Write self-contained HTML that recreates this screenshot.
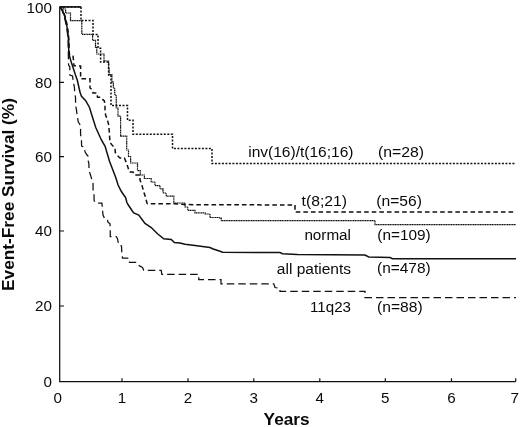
<!DOCTYPE html>
<html><head><meta charset="utf-8"><title>Event-Free Survival</title>
<style>
html,body{margin:0;padding:0;background:#fff;}
body{width:520px;height:427px;overflow:hidden;}
svg{display:block;will-change:transform;filter:grayscale(1);}
text{font-family:"Liberation Sans",sans-serif;fill:#0a0a0a;}
.b{font-weight:bold;}
.l{fill:none;stroke:#111;stroke-linejoin:miter;}
</style></head><body>
<svg width="520" height="427" viewBox="0 0 520 427">
<rect width="520" height="427" fill="#fff"/>

<path class="l" stroke-width="1.25" d="M59.7,6.6 L59.7,381.7 L515.7,381.7"/>
<path class="l" stroke-width="1.2" d="M122,381.6 V378.2 M188,381.6 V378.2 M253.8,381.6 V378.2 M319.8,381.6 V378.2 M385.3,381.6 V378.2 M451.5,381.6 V378.2 M515.7,381.6 V378.2 M59.7,82.3 H64 M59.7,156.6 H64 M59.7,231 H64 M59.7,306 H64 "/>
<text x="51.9" y="12.65" font-size="15.2" text-anchor="end">100</text>
<text x="51.9" y="87.65" font-size="15.2" text-anchor="end">80</text>
<text x="51.9" y="161.95" font-size="15.2" text-anchor="end">60</text>
<text x="51.9" y="236.35" font-size="15.2" text-anchor="end">40</text>
<text x="51.9" y="311.35" font-size="15.2" text-anchor="end">20</text>
<text x="51.9" y="386.95" font-size="15.2" text-anchor="end">0</text>
<text x="57.7" y="403.3" font-size="15.2" text-anchor="middle">0</text>
<text x="122" y="403.3" font-size="15.2" text-anchor="middle">1</text>
<text x="188" y="403.3" font-size="15.2" text-anchor="middle">2</text>
<text x="253.8" y="403.3" font-size="15.2" text-anchor="middle">3</text>
<text x="319.8" y="403.3" font-size="15.2" text-anchor="middle">4</text>
<text x="385.3" y="403.3" font-size="15.2" text-anchor="middle">5</text>
<text x="451.5" y="403.3" font-size="15.2" text-anchor="middle">6</text>
<text x="514.7" y="403.3" font-size="15.2" text-anchor="middle">7</text>
<text class="b" x="286.6" y="425.3" font-size="16.4" text-anchor="middle" textLength="46" lengthAdjust="spacingAndGlyphs">Years</text>
<text class="b" transform="translate(14.2,194.5) rotate(-90)" font-size="15.6" text-anchor="middle" textLength="193" lengthAdjust="spacingAndGlyphs">Event-Free Survival (%)</text>
<path class="l" stroke-width="1.6" d="M59.7,6.9 H81.3"/>
<polyline class="l" stroke-width="1.5" stroke-dasharray="2 1.5" points="60,7 81,7 81,20.5 93,20.5 93,34.4 98,34.4 98,48.2 100.6,48.2 100.6,62 108.6,62 108.6,75 111,75 111,105.5 127.5,105.5 127.5,120.3 133,120.3 133,134.2 172.5,134.2 172.5,148.6 212,148.6 212,163.6 516,163.6"/>
<polyline class="l" stroke-width="1.2" stroke-dasharray="1.3 0.4" points="60,7 63.5,7 63.5,9 65.6,9 65.6,13 70.5,13 70.5,20.7 81.8,20.7 81.8,34.3 92.6,34.3 92.6,40.4 95.5,40.4 95.5,47.4 96.8,47.4 96.8,54 104,54 104,61 108.6,61 108.6,69 109.2,69 109.2,74.7 111.9,74.7 111.9,82.2 113.3,82.2 113.3,88 114.7,88 114.7,95 116.25,95 116.25,108 118,108 118,116.2 120.6,116.2 120.6,136.2 126.7,136.2 126.7,150 128.5,150 128.5,156.5 130.6,156.5 130.6,163 137.5,163 137.5,170.6 140.3,170.6 140.3,175 144.4,175 144.4,178.5 151.2,178.5 151.2,182 155,182 155,185.6 160,185.6 160,188.8 163,188.8 163,193 166.2,193 166.2,196.2 173.8,196.2 173.8,203 185,203 185,207 187.8,207 187.8,210.4 195,210.4 195,212.8 205,212.8 205,214 210,214 210,217.5 220,217.5 220,218.2 221.3,218.2 221.3,220.6 375,220.6 375,224.7 516,224.7"/>
<polyline class="l" stroke-width="1.5" stroke-dasharray="4.6 3" points="60,7 61.7,9 63.4,11.4 65.3,17 67,24.5 68.3,33 69,41 69.2,50 69.4,54.5 73,55.5 74,65.8 80.6,66 80.6,78.75 90,78.75 90,88 92.5,90 93,93 97,93 97.5,97.25 100.6,97.25 102.5,99.4 104.4,101 105,105.6 105,110 105.6,115 107.5,120 108.75,125 110,142.5 112.5,145.6 115,148 115.3,152.5 117.5,155.6 120,158 124.4,158 126.25,162.5 128,167.5 129.4,172 133,172 134.4,175 140,175 140,180 141.9,185 143.75,192 145.6,197.5 146.9,203 147.5,203.8 174,203.8 185,204.6 295,205 295,212 516,212"/>
<polyline class="l" stroke-width="1.25" stroke-dasharray="7.5 4" points="60,7 61.2,9 62.5,11.4 64.4,17 66.1,24.5 67.4,33 68.1,41 68.3,54 68.6,65 69.8,67 69.8,75 72.5,76 73.7,84 74.4,87 74.8,94 75.5,97 75.6,106 76.4,109.4 77,114.4 77.6,117.5 78.25,122 79.5,123.75 80.5,126 80.6,135 81.4,137.5 81.6,146 83.9,147 85.1,152 87,155 88,156 88.2,161 88.9,163.75 89,170.6 90.1,173.75 92,180 93,183 93.1,190.6 94,193.75 94.1,200.6 96,203 101.9,203 103,215 104.4,218 107.5,219.4 107.8,222 110,223.75 110.25,231 110.25,236.5 116.25,236.5 117.5,238.75 118.75,245 121.5,246 121.9,254.4 122.5,258 128.75,258 129.4,262.25 136.25,262.25 138,265 142.5,267.5 143.75,270.25 161.25,270.25 161.8,274.4 198.75,274.4 198.75,279.5 221,279.5 221,283.75 273.75,283.75 275,287.5 280,288.5 280,291.25 365,291.25 365,297.5 516,297.5"/>
<polyline class="l" stroke-width="1.5" stroke-linejoin="round" points="60,7 61.5,9 63,11.4 64.9,17 66.6,24.5 67.9,33 68.6,41 68.8,53.7 70.6,60 75.2,74.3 77.25,80 80.05,92.2 81.5,96.4 85.7,100.6 89.4,107.2 92.6,117.5 95.75,127.5 101.4,140 105.1,146.25 109.5,161.25 115.75,177.5 118.1,185 121.25,191.25 123.75,195 125.6,197.5 126.9,202.5 128,204.5 132.5,211.25 133.75,213 138.75,215 145,223.5 151.25,227.5 157.5,233.75 163.75,238.75 171.25,239.4 174.4,242.5 180,243 185,244.3 195,245.5 210,247.5 212.5,248.75 220,251.25 222.5,252.2 280,252.6 282.5,253.75 297.5,254.6 365,255 368.75,257 390,257.5 392.5,258.75 516,258.75"/>
<text x="248.2" y="157" font-size="14.7" textLength="105.3" lengthAdjust="spacingAndGlyphs">inv(16)/t(16;16)</text>
<text x="378" y="157" font-size="14.7" textLength="46" lengthAdjust="spacingAndGlyphs">(n=28)</text>
<text x="301.6" y="205.6" font-size="14.7" textLength="45.4" lengthAdjust="spacingAndGlyphs">t(8;21)</text>
<text x="376.3" y="205.6" font-size="14.7" textLength="45.7" lengthAdjust="spacingAndGlyphs">(n=56)</text>
<text x="304.4" y="240" font-size="14.7" textLength="46.6" lengthAdjust="spacingAndGlyphs">normal</text>
<text x="377.3" y="240" font-size="14.7" textLength="53.4" lengthAdjust="spacingAndGlyphs">(n=109)</text>
<text x="276.8" y="273.6" font-size="14.7" textLength="74.2" lengthAdjust="spacingAndGlyphs">all patients</text>
<text x="377" y="273.2" font-size="14.7" textLength="53.7" lengthAdjust="spacingAndGlyphs">(n=478)</text>
<text x="310" y="312.4" font-size="14.7" textLength="41" lengthAdjust="spacingAndGlyphs">11q23</text>
<text x="377" y="312.2" font-size="14.7" textLength="45.7" lengthAdjust="spacingAndGlyphs">(n=88)</text>
</svg>
</body></html>
